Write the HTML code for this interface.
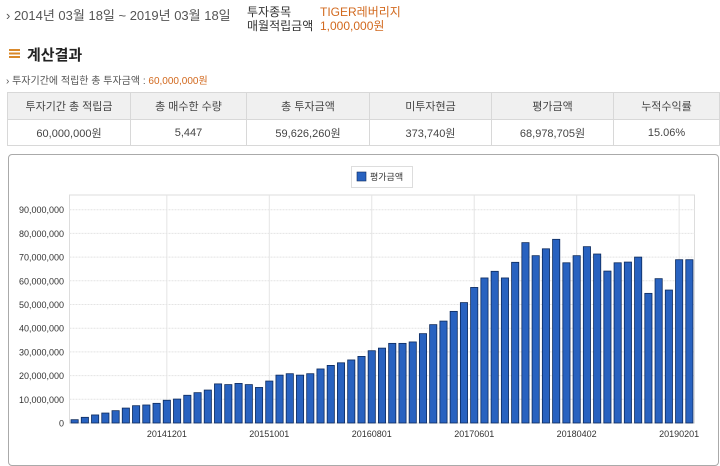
<!DOCTYPE html>
<html><head><meta charset="utf-8">
<style>
body{margin:0;width:720px;height:448px;overflow:hidden;background:#fff;font-family:"Liberation Sans","Noto Sans CJK KR",sans-serif;color:#333;position:relative}
.abs{position:absolute;white-space:nowrap}
.or{color:#d2691e}
table{border-collapse:collapse;position:absolute;left:7px;top:92px;width:713px;font-size:11px;color:#444}
td,th{border:1px solid #d8d8d8;text-align:center;font-weight:normal;padding:0}
th{background:#f0f0f0;height:26px}
td{height:25px}
</style></head><body>
<div class="abs" style="left:6px;top:5px;font-size:13px;color:#555">› 2014년 03월 18일 ~ 2019년 03월 18일</div>
<div class="abs" style="left:247px;top:5px;font-size:12px;color:#333;line-height:14px">투자종목<br>매월적립금액</div>
<div class="abs or" style="left:320px;top:5px;font-size:12px;line-height:14px">TIGER레버리지<br>1,000,000원</div>
<div class="abs" style="left:9px;top:49px;width:11px;height:9px;background:repeating-linear-gradient(#d9892b 0 2px,#fff 2px 3.5px)"></div>
<div class="abs" style="left:27px;top:44px;font-size:15px;font-weight:bold;color:#222">계산결과</div>
<div class="abs" style="left:6px;top:72px;font-size:10px;color:#555">› 투자기간에 적립한 총 투자금액 : <span class="or">60,000,000원</span></div>
<table>
<tr><th style="width:122px">투자기간 총 적립금</th><th style="width:115px">총 매수한 수량</th><th style="width:122px">총 투자금액</th><th style="width:121px">미투자현금</th><th style="width:121px">평가금액</th><th>누적수익률</th></tr>
<tr><td>60,000,000원</td><td>5,447</td><td>59,626,260원</td><td>373,740원</td><td>68,978,705원</td><td>15.06%</td></tr>
</table>
<div class="abs" style="left:8px;top:154px;width:709px;height:310px;border:1px solid #aaa;border-radius:4px"></div>
<svg id="chart" class="abs" style="left:0;top:0" width="720" height="448"></svg>
<script>
const categories=[];
for(let y=2014,m=3;categories.length<61;){categories.push(''+y+String(m).padStart(2,'0')+'01');m++;if(m>12){m=1;y++;}}
const values=[1.4,2.4,3.4,4.2,5.2,6.3,7.3,7.6,8.3,9.6,10.1,11.7,12.8,13.9,16.5,16.2,16.7,16.2,15.0,17.7,20.2,20.8,20.2,20.8,22.8,24.3,25.4,26.6,28.1,30.5,31.6,33.6,33.6,34.2,37.7,41.5,43.0,47.1,50.8,57.2,61.2,64.0,61.2,67.8,76.1,70.6,73.5,77.5,67.6,70.6,74.4,71.3,64.1,67.6,67.9,70.0,54.7,60.9,56.1,68.9,68.9].map(v=>v*1e6);
const yTicks=[0,10e6,20e6,30e6,40e6,50e6,60e6,70e6,80e6,90e6];
const xTickIdx=[9,19,29,39,49,59];
const xTickLabels=['20141201','20151001','20160801','20170601','20180402','20190201'];
const svg=document.getElementById('chart'),NS='http://www.w3.org/2000/svg';
const L=69.5,R=694.5,T=195,B=423,YMAX=96.2e6;
const y=v=>B-(v/YMAX)*(B-T);
const band=(R-L)/categories.length;
const x=i=>L+band*(i+0.5);
function mk(t,a){const e=document.createElementNS(NS,t);for(const k in a)e.setAttribute(k,a[k]);svg.appendChild(e);return e;}
let e=mk('rect',{x:L,y:T,width:R-L,height:B-T,fill:'none',stroke:'#ddd'});

yTicks.forEach(v=>{
 if(v>0){let g=mk('line',{x1:L,x2:R,y1:y(v),y2:y(v),stroke:'#e4e4e4','stroke-dasharray':'2,1'});}
 let t=mk('text',{x:64,y:y(v)+3.5,'text-anchor':'end','font-size':9,fill:'#333'});t.textContent=v.toLocaleString('en-US');
 
});
xTickIdx.forEach((i,k)=>{
 let g=mk('line',{x1:x(i),x2:x(i),y1:T,y2:B,stroke:'#e4e4e4'});
 let t=mk('text',{x:x(i),y:437,'text-anchor':'middle','font-size':9,fill:'#333'});t.textContent=xTickLabels[k];
 
});
values.forEach((v,i)=>{
 let r=mk('rect',{x:x(i)-3.6,y:y(v),width:7.2,height:B-y(v),fill:'#2862c0',stroke:'#0d2a5c','stroke-width':0.8});
 
});
let lb=mk('rect',{x:351.5,y:166.5,width:61,height:21,fill:'#fff',stroke:'#ddd'});

let ls=mk('rect',{x:357,y:172,width:9,height:9,fill:'#2862c0',stroke:'#0d2a5c','stroke-width':0.6});

let lt=mk('text',{x:370,y:180,'font-size':9,fill:'#333'});lt.textContent='평가금액';

</script>
</body></html>
